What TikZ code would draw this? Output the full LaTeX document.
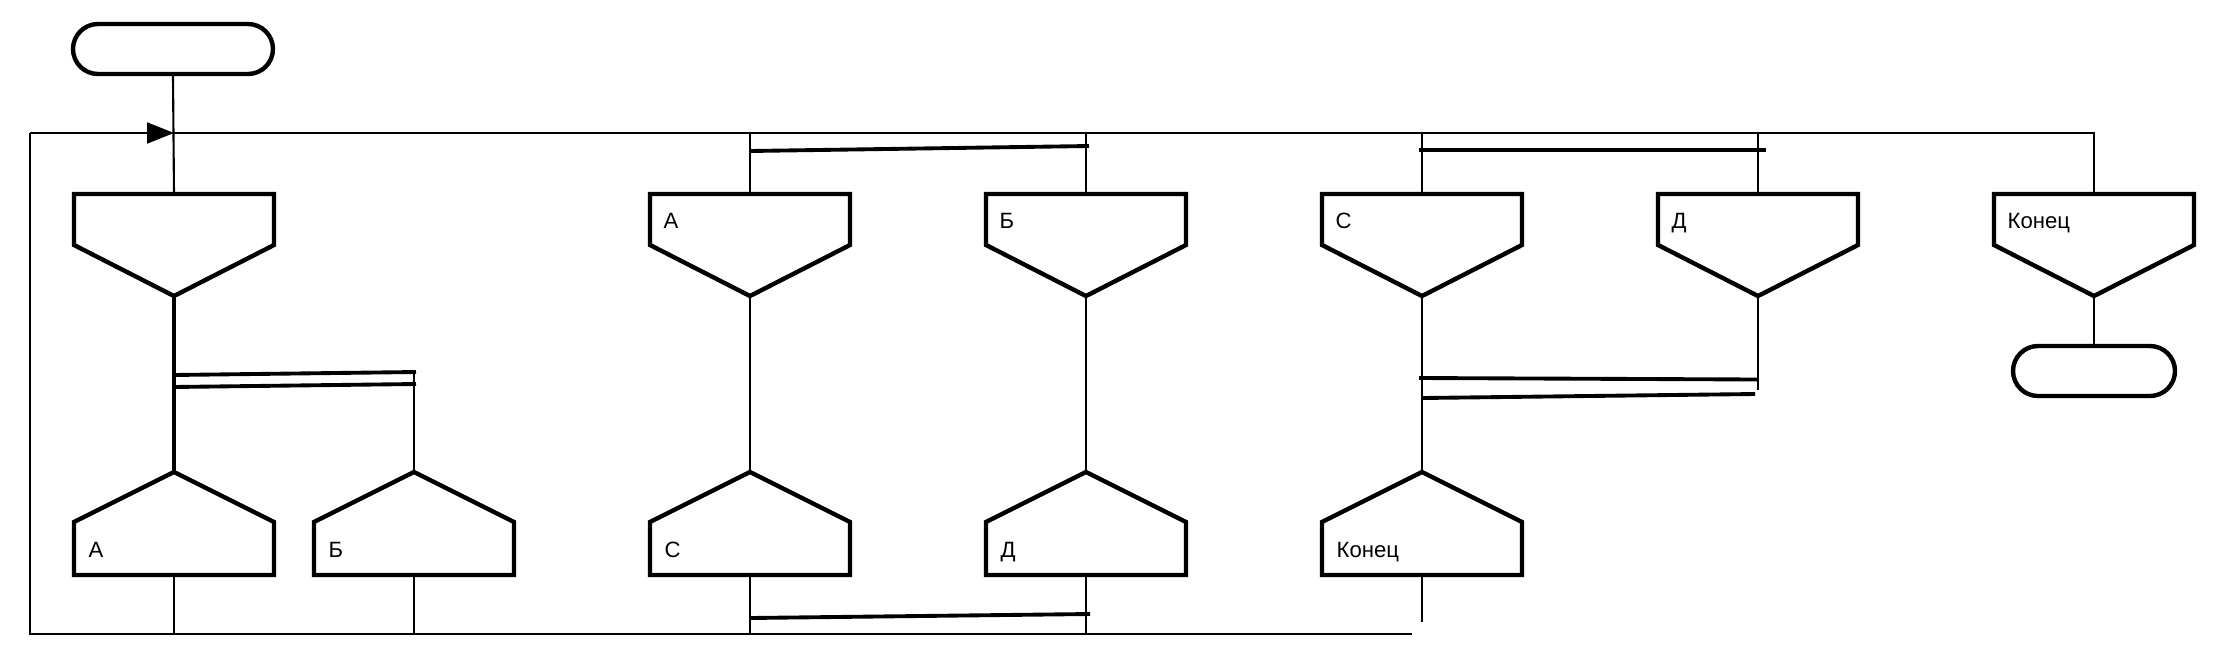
\documentclass[tikz,border=0pt]{standalone}
\usepackage{fontspec}
\setmainfont{Liberation Sans}
\usetikzlibrary{arrows.meta,calc}
\tikzset{
	wire/.style={line width=0.6pt},
	bar/.style={line width=1.1pt},
	blk/.style={line width=1.25pt},
	lbl/.style={anchor=base west, inner sep=0pt, font=\fontsize{6.3}{8}\selectfont},
	termnl/.style={draw, line width=1.25pt, rounded corners=0.25cm, minimum height=0.5cm, inner sep=0pt},
	topblock/.pic={
			\draw[blk] (-1,0) -- (1,0) -- (1,-0.51) -- (0,-1.02) -- (-1,-0.51) -- cycle;
			\coordinate (-in) at (0,0);
			\coordinate (-out) at (0,-1.02);
			\node[lbl] (-txt) at (-0.87,-0.345) {#1};
		},
	botblock/.pic={
			\draw[blk] (0,0) -- (1,-0.5) -- (1,-1.03) -- (-1,-1.03) -- (-1,-0.5) -- cycle;
			\coordinate (-in) at (0,0);
			\coordinate (-out) at (0,-1.03);
			\node[lbl] (-txt) at (-0.86,-0.85) {#1};
		}
}
\begin{document}
\begin{tikzpicture}
	\useasboundingbox (0,0) rectangle (22.14,-6.69);
	\node[termnl, minimum width=2cm] (start) at (1.73,-0.49) {};
	\node[termnl, minimum width=1.62cm] (stop) at (20.94,-3.71) {};

	\pic (q) at (1.74,-1.94) {topblock=};
	\pic (a1) at (7.50,-1.94) {topblock=А};
	\pic (b1) at (10.86,-1.94) {topblock=Б};
	\pic (c1) at (14.22,-1.94) {topblock=С};
	\pic (d1) at (17.58,-1.94) {topblock=Д};
	\pic (e1) at (20.94,-1.94) {topblock=Конец};

	\pic (a2) at (1.74,-4.72) {botblock=А};
	\pic (b2) at (4.14,-4.72) {botblock=Б};
	\pic (c2) at (7.50,-4.72) {botblock=С};
	\pic (d2) at (10.86,-4.72) {botblock=Д};
	\pic (e2) at (14.22,-4.72) {botblock=Конец};

	% loop
	\coordinate (lp1) at (0.30,-1.33);
	\coordinate (lp2) at (0.30,-6.34);
	\coordinate (lp3) at (14.12,-6.34);
	\coordinate (lp4) at (e1-in |- lp1);
	\coordinate (entry) at (q-in |- lp1);
	\draw[wire] (start.south) -- (q-in);
	\draw[wire, -{Triangle[length=0.27cm, width=0.21cm]}] (lp1) -- (entry);
	\draw[wire] (entry) -- (lp4) -- (e1-in);
	\draw[wire] (lp1) -- (lp2) -- (lp3);
	\draw[wire] (e1-out) -- (stop.north);
	\foreach \n in {a1,b1,c1,d1}
		\draw[wire] (\n-in) -- (\n-in |- lp1);
	\foreach \n in {a2,b2,c2,d2}
		\draw[wire] (\n-out) -- (\n-out |- lp2);
	\draw[wire] (e2-out) -- ++(0,-0.47);

	% first split
	\draw[line width=1pt] (q-out) -- (a2-in);
	\draw[bar] (1.73,-3.75) -- (4.16,-3.72);
	\draw[bar] (1.73,-3.87) -- (4.16,-3.84);
	\draw[wire] (b2-in |- 0,-3.72) -- (b2-in);

	% А, Б
	\draw[wire] (a1-out) -- (c2-in);
	\draw[wire] (b1-out) -- (d2-in);
	\draw[bar] (7.50,-1.51) -- (10.89,-1.46);
	\draw[bar] (7.50,-6.18) -- (10.90,-6.14);

	% С, Д
	\draw[wire] (c1-out) -- (e2-in);
	\draw[wire] (d1-out) -- (17.58,-3.90);
	\draw[bar] (14.19,-1.50) -- (17.66,-1.50);
	\draw[bar] (14.19,-3.78) -- (17.58,-3.795);
	\draw[bar] (14.22,-3.98) -- (17.55,-3.94);
\end{tikzpicture}
\end{document}
